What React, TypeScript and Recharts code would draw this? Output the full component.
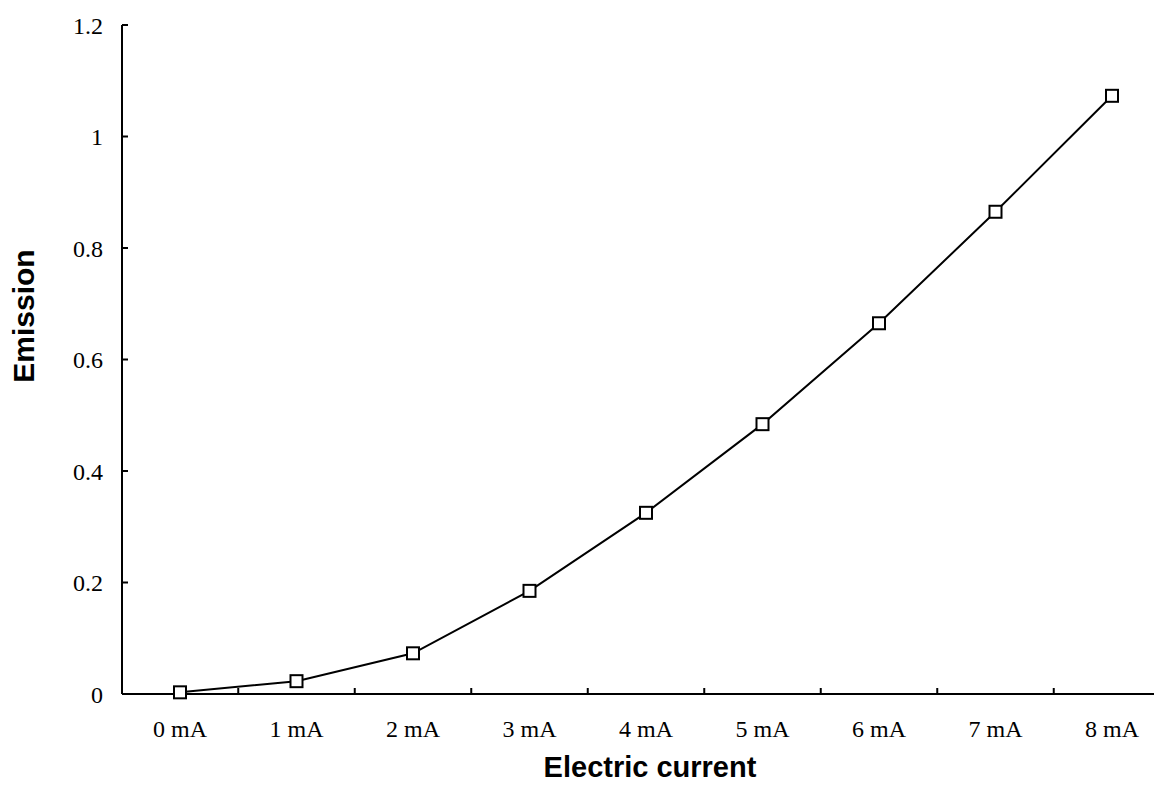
import { LineChart, Line, XAxis, YAxis } from "recharts"

const currents = ["0 mA", "1 mA", "2 mA", "3 mA", "4 mA", "5 mA", "6 mA", "7 mA", "8 mA"]
const emission = [0.003, 0.023, 0.073, 0.185, 0.325, 0.484, 0.665, 0.865, 1.073]
const yTicks = [0, 0.2, 0.4, 0.6, 0.8, 1, 1.2]

const data = currents.map((c, i) => ({ current: c, emission: emission[i] }))

const W = 1154
const H = 777
const PLOT_LEFT = 114
const STEP = 116.5

const serif = "'Liberation Serif', 'Times New Roman', serif"
const sans = "'Liberation Sans', Arial, sans-serif"

function XTick(props: any) {
  const { x, y, payload, index } = props
  return (
    <g>
      {index < currents.length - 1 && (
        <line x1={x + STEP / 2} x2={x + STEP / 2} y1={y - 9} y2={y - 14} stroke="#000" strokeWidth={2} />
      )}
      <text x={x} y={y + 35} textAnchor="middle" fontFamily={serif} fontSize={24} fill="#000">
        {payload.value}
      </text>
    </g>
  )
}

function Square(props: any) {
  const { cx, cy, index } = props
  return <rect key={index} x={cx - 6} y={cy - 6} width={12} height={12} fill="#fff" stroke="#000" strokeWidth={2} />
}

export default function App() {
  return (
    <LineChart width={W} height={H} data={data} margin={{ top: 17, right: 0, left: 0, bottom: 0 }}>
      <XAxis
        dataKey="current"
        height={91}
        padding={{ left: 58, right: 50 }}
        axisLine={{ stroke: "#000", strokeWidth: 2 }}
        tickLine={false}
        tick={<XTick />}
        interval={0}
        label={{
          content: () => (
            <text x={642} y={769} textAnchor="middle" fontFamily={sans} fontWeight="bold" fontSize={29} fill="#000">
              Electric current
            </text>
          ),
        }}
      />
      <YAxis
        width={PLOT_LEFT}
        domain={[0, 1.2]}
        ticks={yTicks}
        interval={0}
        axisLine={{ stroke: "#000", strokeWidth: 2 }}
        tickLine={{ stroke: "#000", strokeWidth: 2 }}
        tickSize={-6}
        tickMargin={25}
        tick={{ fill: "#000", fontFamily: serif, fontSize: 24 }}
        label={{
          content: () => (
            <text
              x={15}
              y={308}
              transform="rotate(-90 15 308)"
              textAnchor="middle"
              dominantBaseline="central"
              fontFamily={sans}
              fontWeight="bold"
              fontSize={30}
              fill="#000"
            >
              Emission
            </text>
          ),
        }}
      />
      <Line
        type="linear"
        dataKey="emission"
        stroke="#000"
        strokeWidth={2}
        dot={<Square />}
        activeDot={false}
        isAnimationActive={false}
      />
    </LineChart>
  )
}
